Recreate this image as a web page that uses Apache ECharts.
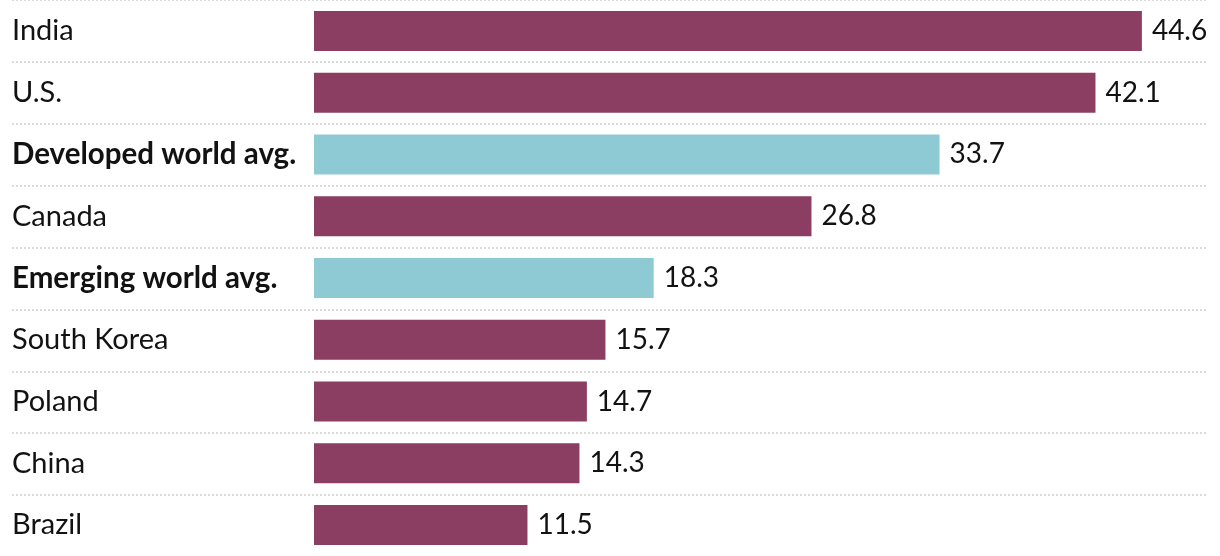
<!DOCTYPE html>
<html>
<head>
<meta charset="utf-8">
<script src="https://cdn.jsdelivr.net/npm/echarts@6/dist/echarts.min.js"></script>
<style>
html,body{margin:0;padding:0;background:#fff;}
#c{width:1220px;height:556px;}
</style>
</head>
<body>
<div id="c"></div>
<script>
const categories = ['India','U.S.','Developed world avg.','Canada','Emerging world avg.','South Korea','Poland','China','Brazil'];
const values = [44.6, 42.1, 33.7, 26.8, 18.3, 15.7, 14.7, 14.3, 11.5];
const isAverage = [false, false, true, false, true, false, false, false, false];

const PURPLE = '#8b3e62';
const TEAL = '#8ecad4';
const FONT = 'Lato';
const ROW = 62;

const chart = echarts.init(document.getElementById('c'), null, {renderer:'canvas'});
chart.setOption({
  animation: false,
  backgroundColor: '#ffffff',
  grid: [
    // separator grid: rows except the last, so the bottom boundary is the last separator
    {left: 12, right: 13, top: -1, height: ROW * (categories.length - 1)},
    {left: 314, right: 15, top: -1, height: ROW * categories.length}
  ],
  xAxis: [
    {gridIndex: 0, type: 'value', min: 0, max: 1, show: false},
    {gridIndex: 1, type: 'value', min: 0, max: 48, show: false}
  ],
  yAxis: [
    {gridIndex: 0, type: 'category', data: categories.slice(0, categories.length - 1), inverse: true,
     axisLine: {show: false}, axisTick: {show: false}, axisLabel: {show: false},
     splitLine: {show: true, lineStyle: {type: [2, 2], color: '#cfcfcf', width: 1.5}}},
    {gridIndex: 1, type: 'category', data: categories, inverse: true,
     axisLine: {show: false}, axisTick: {show: false}, splitLine: {show: false},
     axisLabel: {
       show: true, align: 'left', margin: 302,
       fontFamily: FONT, fontSize: 29, color: '#121212',
       formatter: function (v, i) { return isAverage[i] ? '{b|' + v + '}' : '{n|' + v + '}'; },
       rich: {
         n: {fontFamily: FONT, fontSize: 29, color: '#121212', fontWeight: 'normal'},
         b: {fontFamily: FONT, fontSize: 29.5, color: '#121212', fontWeight: 'bold'}
       }
     }}
  ],
  series: [
    {type: 'bar', xAxisIndex: 0, yAxisIndex: 0, data: [], silent: true},
    {
      type: 'bar', xAxisIndex: 1, yAxisIndex: 1, barWidth: 40,
      data: values.map((v, i) => ({value: v, itemStyle: {color: isAverage[i] ? TEAL : PURPLE}})),
      label: {
        show: true, position: 'right', distance: 10,
        fontFamily: FONT, fontSize: 28, color: '#121212',
        formatter: p => values[p.dataIndex].toFixed(1)
      }
    }
  ]
});
</script>
</body>
</html>
